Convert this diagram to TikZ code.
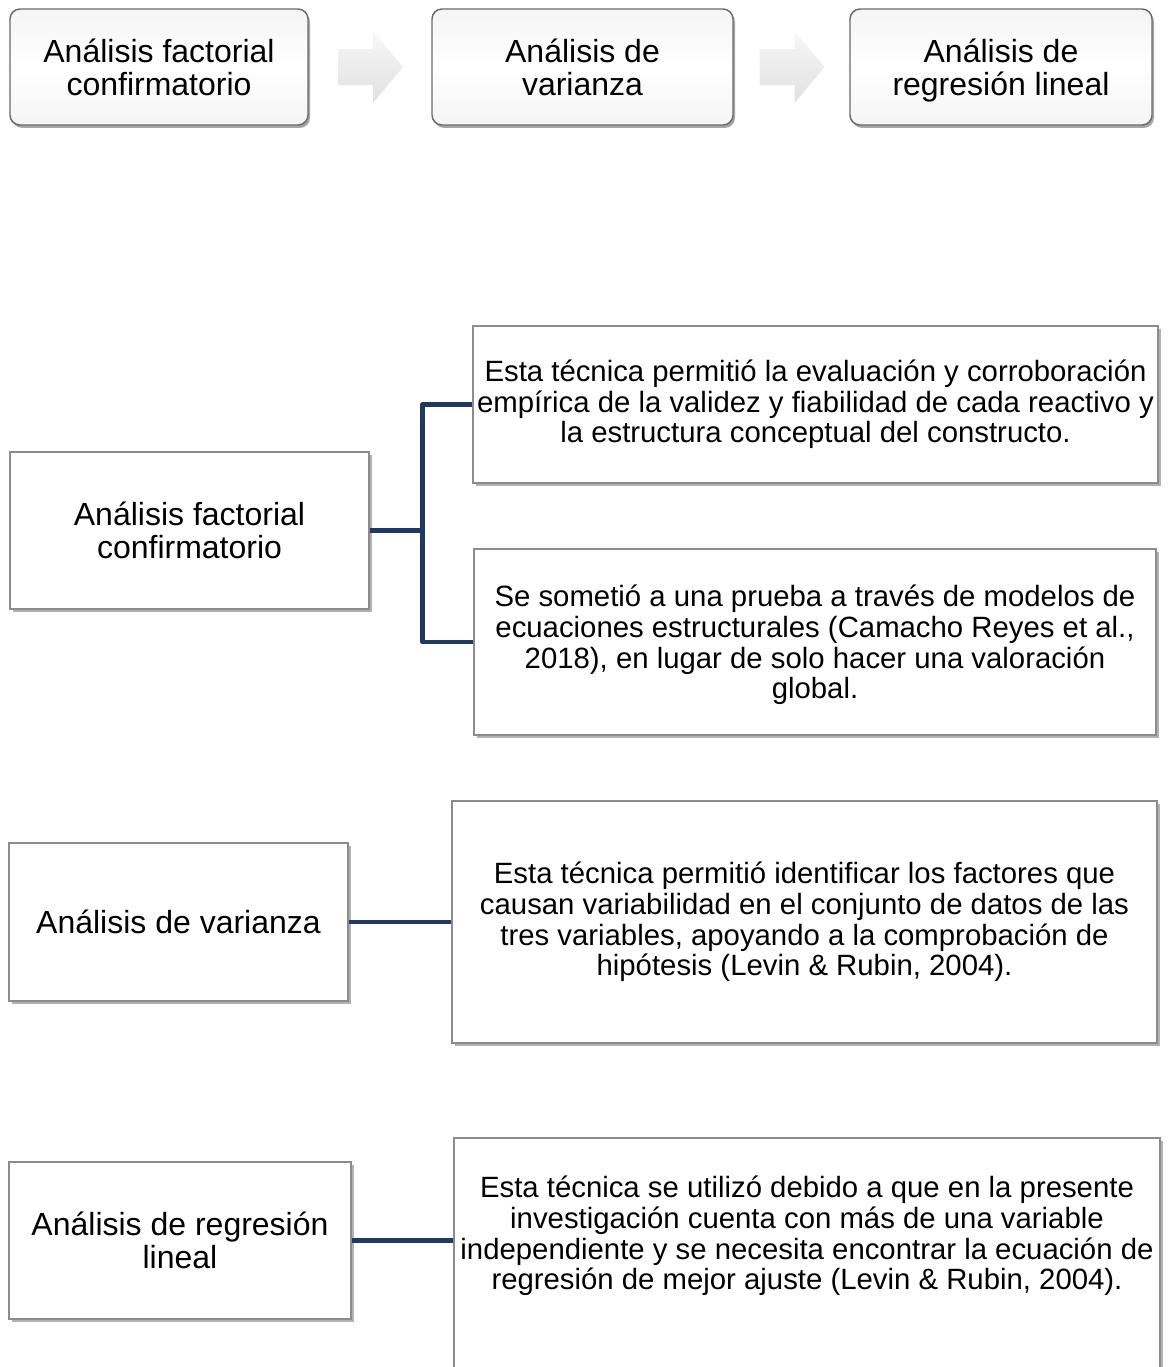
\documentclass[tikz,border=0pt]{standalone}
\usepackage{fontspec}
\setmainfont{Liberation Sans}
\usetikzlibrary{shadows,calc}
\definecolor{navy}{HTML}{1F3864}
\definecolor{boxline}{HTML}{8C8C8C}
\definecolor{topline}{HTML}{6A6A6A}
\begin{document}
\begin{tikzpicture}[x=0.75pt,y=-0.75pt,
  titlefont/.style={font=\fontsize{24}{24.75}\selectfont},
  bodyfont/.style={font=\fontsize{22}{23}\selectfont},
  topbox/.style={draw=topline, line width=1.1pt, rounded corners=7.5pt,
    top color=gray!8, bottom color=gray!8, middle color=white,
    align=center, inner sep=0pt, minimum height=116*0.75pt,
    drop shadow={shadow xshift=1.5pt, shadow yshift=-2.2pt, opacity=0.35, fill=black},
    font=\fontsize{24}{24.75}\selectfont},
  lowbox/.style={draw=boxline, line width=0.8pt, fill=white, inner sep=0pt, align=center,
    drop shadow={shadow xshift=2pt, shadow yshift=-2.2pt, opacity=0.3, fill=black}},
  arrowshade/.style={top color=gray!6, bottom color=gray!24},
  conn/.style={draw=navy, line width=3.3pt, line join=round}
]
\useasboundingbox (0,0) rectangle (1172,1367);
\clip (0,0) rectangle (1172,1367);

% top row
\node[topbox, minimum width=298*0.75pt] (A) at (159,67) {Análisis factorial\\confirmatorio};
\node[topbox, minimum width=301*0.75pt] (B) at (582.5,67) {Análisis de\\varianza};
\node[topbox, minimum width=302*0.75pt] (C) at (1001,67) {Análisis de\\\smash{regresión lineal}};

\coordinate (m1) at ($(A.east)!0.5!(B.west)$);
\coordinate (m2) at ($(B.east)!0.5!(C.west)$);
\foreach \m in {m1,m2}{
  \path[arrowshade] ($(\m)+(-32,-18)$) -- ($(\m)+(3,-18)$) -- ($(\m)+(3,-36)$) -- ($(\m)+(33,0)$)
    -- ($(\m)+(3,36)$) -- ($(\m)+(3,18)$) -- ($(\m)+(-32,18)$) -- cycle;
}

% section 1
\node[lowbox, titlefont, minimum width=359*0.75pt, minimum height=157*0.75pt] (L1) at (189.5,530.5)
  {Análisis factorial\\confirmatorio};
\node[lowbox, bodyfont, minimum width=685*0.75pt, minimum height=157*0.75pt] (R1) at (815.5,404.5)
  {Esta técnica permitió la evaluación y corroboración\\empírica de la validez y fiabilidad de cada reactivo y\\la estructura conceptual del constructo.};
\node[lowbox, bodyfont, minimum width=682*0.75pt, minimum height=186*0.75pt] (R2) at (815,642)
  {Se sometió a una prueba a través de modelos de\\ecuaciones estructurales (Camacho Reyes et al.,\\2018), en lugar de solo hacer una valoración\\\smash{global.}};

% section 2
\node[lowbox, titlefont, minimum width=339*0.75pt, minimum height=158*0.75pt] (L2) at (178.5,922)
  {Análisis de varianza};
\node[lowbox, bodyfont, minimum width=705*0.75pt, minimum height=242*0.75pt] (R3) at (804.5,922)
  {Esta técnica permitió identificar los factores que\\causan variabilidad en el conjunto de datos de las\\tres variables, apoyando a la comprobación de\\hipótesis (Levin \& Rubin, 2004).};

% section 3
\node[lowbox, titlefont, minimum width=342*0.75pt, minimum height=157*0.75pt] (L3) at (180,1240.5)
  {Análisis de regresión\\lineal};
\node[lowbox, minimum width=706*0.75pt, minimum height=262*0.75pt] (R4) at (807,1269) {};
\node[bodyfont, align=center, inner sep=0pt] (R4t) at (807,1236)
  {Esta técnica se utilizó debido a que en la presente\\investigación cuenta con más de una variable\\independiente y se necesita encontrar la ecuación de\\regresión de mejor ajuste (Levin \& Rubin, 2004).};

% connectors
\coordinate (j1) at ($(L1.east)+(53,0)$);
\draw[conn] (L1.east) -- (j1);
\draw[conn] (R1.west) -| (j1) |- (R2.west);
\draw[conn] (L2.east) -- (R3.west);
\draw[conn] (L3.east) -- (L3.east -| R4.west);
\end{tikzpicture}
\end{document}
